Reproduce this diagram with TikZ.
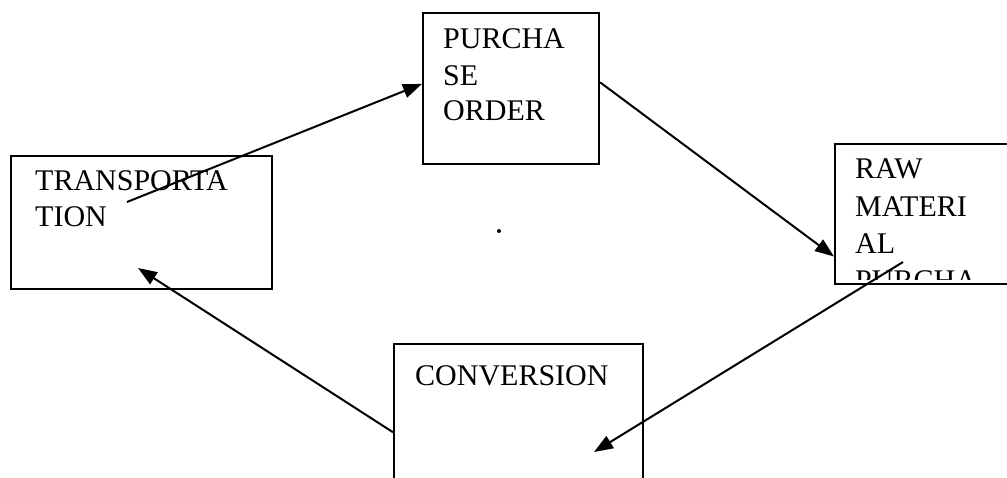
\documentclass[tikz,border=0pt]{standalone}
\usepackage{fontspec}
\setmainfont{Liberation Serif}
\usetikzlibrary{arrows.meta}

\tikzset{
  box/.style={draw=black, line width=2.1pt, rectangle, inner sep=0pt, anchor=north west},
  lbl/.style={inner sep=0pt, anchor=base west, font=\fontsize{30}{36}\selectfont},
  flow/.style={draw=black, line width=2pt, -{Triangle[length=19pt,width=14pt]}}
}

\begin{document}
\begin{tikzpicture}[x=1pt,y=-1pt]
  \useasboundingbox (0,0) rectangle (1007,477);

  % boxes (the right and bottom ones run past the page edge)
  \node[box, minimum width=261pt, minimum height=133pt] (trans) at (10,155) {};
  \node[box, minimum width=176pt, minimum height=151pt] (po)    at (422,12)  {};
  \node[box, minimum width=180pt, minimum height=140pt] (raw)   at (834,143) {};
  \node[box, minimum width=249pt, minimum height=150pt] (conv)  at (393,343) {};

  % box texts
  \node[lbl] (transA) at (35,190) {TRANSPORTA};
  \node[lbl] (transB) at (35,226) {TION};

  \node[lbl] (poA) at (443,48)  {PURCHA};
  \node[lbl] (poB) at (443,85)  {SE};
  \node[lbl] (poC) at (443,120) {ORDER};

  \begin{scope}
    \clip (raw.north west) rectangle (1007,279);
    \node[lbl] (rawA) at (855,178) {RAW};
    \node[lbl] (rawB) at (855,216) {MATERI};
    \node[lbl] (rawC) at (855,253) {AL};
    \node[lbl] (rawD) at (855,290) {PURCHA};
  \end{scope}

  \node[lbl] (convA) at (415,385) {CONVERSION};

  % stray dot
  \fill (499,231) circle (2pt);

  % connector end points inside boxes
  \coordinate (s1) at (127,202);
  \coordinate (s3) at (903,262);
  \coordinate (e3) at (594,452);
  \coordinate (e4) at (138,268);

  % connectors
  \draw[flow] (s1) -- (po.177);
  \draw[flow] (po.4) -- (raw.205);
  \draw[flow] (s3) -- (e3);
  \draw[flow] (conv.186) -- (e4);
\end{tikzpicture}
\end{document}
